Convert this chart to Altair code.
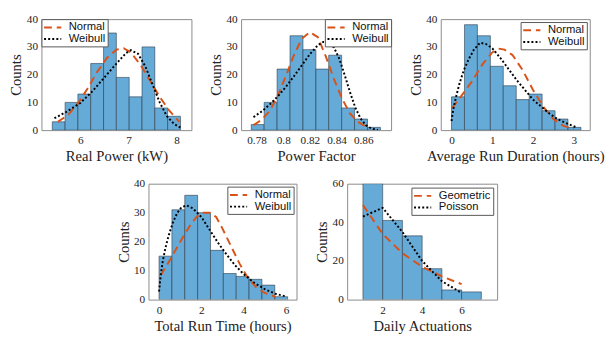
import altair as alt
import pandas as pd

# ---------------- data ----------------
# Panel 1: Real Power (kW)
rp_edges = [5.415, 5.682, 5.948, 6.215, 6.482, 6.748, 7.015, 7.282, 7.548, 7.815, 8.082]
rp_counts = [3, 10, 13, 24, 35, 19, 12, 30, 8, 5]
rp_norm_x = [5.53, 5.75, 5.95, 6.15, 6.35, 6.55, 6.75, 6.9, 7.05, 7.25, 7.45, 7.65, 7.85, 8.06]
rp_norm_y = [3.0, 5.6, 9.7, 15.0, 21.0, 26.0, 29.0, 29.5, 28.0, 23.5, 17.8, 12.0, 7.0, 3.0]
rp_weib_x = [5.46, 5.7, 6.0, 6.25, 6.5, 6.75, 6.95, 7.05, 7.2, 7.35, 7.5, 7.65, 7.8, 7.95, 8.08]
rp_weib_y = [4.3, 6.5, 9.8, 14.0, 19.0, 24.0, 27.8, 28.8, 27.5, 23.0, 16.5, 10.0, 5.0, 2.2, 0.9]

# Panel 2: Power Factor
pf_edges = [0.7760, 0.7857, 0.7954, 0.8051, 0.8148, 0.8245, 0.8341, 0.8438, 0.8535, 0.8632, 0.8729]
pf_counts = [2, 10, 22, 34, 29, 22, 27, 8, 4, 1]
pf_norm_x = [0.7777, 0.784, 0.790, 0.796, 0.802, 0.808, 0.814, 0.820, 0.826, 0.832, 0.838, 0.844, 0.850, 0.856, 0.863]
pf_norm_y = [1.8, 3.8, 7.0, 12.5, 19.5, 27.0, 33.0, 35.3, 33.5, 26.5, 18.5, 11.5, 6.0, 3.0, 1.0]
pf_weib_x = [0.7777, 0.784, 0.790, 0.796, 0.802, 0.808, 0.814, 0.820, 0.826, 0.830, 0.834, 0.838,
             0.842, 0.846, 0.850, 0.854, 0.858, 0.862, 0.866, 0.871]
pf_weib_y = [4.7, 6.8, 9.3, 12.2, 15.6, 19.4, 23.4, 27.4, 30.6, 31.8, 31.6, 29.8,
             25.8, 20.0, 13.8, 8.2, 4.2, 1.8, 0.6, 0.1]

# Panel 3: Average Run Duration (hours)
ard_edges = [0.0, 0.318, 0.635, 0.953, 1.270, 1.588, 1.906, 2.223, 2.541, 2.858, 3.176]
ard_counts = [12, 38, 34, 23, 16, 11, 13, 7, 4, 1]
ard_norm_x = [0.02, 0.25, 0.5, 0.75, 1.0, 1.15, 1.3, 1.5, 1.75, 2.0, 2.25, 2.5, 2.75, 3.0]
ard_norm_y = [8.0, 12.5, 17.5, 23.5, 28.0, 29.4, 29.0, 27.0, 21.5, 14.5, 8.5, 4.0, 1.5, 0.4]
ard_weib_x = [0.0, 0.05, 0.12, 0.2, 0.3, 0.42, 0.55, 0.7, 0.85, 1.0, 1.2, 1.4, 1.6, 1.8,
              2.0, 2.2, 2.4, 2.6, 2.8, 3.06]
ard_weib_y = [3.3, 8.0, 12.5, 17.0, 21.5, 25.5, 29.0, 31.5, 31.0, 29.5, 26.0, 22.0, 18.0, 14.5,
              11.0, 8.5, 6.0, 4.0, 2.6, 1.0]

# Panel 4: Total Run Time (hours)
trt_edges = [0.0, 0.608, 1.216, 1.824, 2.432, 3.04, 3.648, 4.256, 4.864, 5.472, 6.08]
trt_counts = [15, 31, 36, 30, 17, 9, 8, 7, 5, 1]
trt_norm_x = [0.08, 0.5, 1.0, 1.5, 1.8, 2.1, 2.4, 2.7, 3.0, 3.4, 3.8, 4.2, 4.6, 5.0, 5.5]
trt_norm_y = [8.4, 13.5, 20.0, 26.0, 28.8, 30.0, 30.0, 28.5, 24.5, 18.5, 12.5, 7.5, 4.2, 2.3, 1.0]
trt_weib_x = [0.0, 0.08, 0.18, 0.3, 0.45, 0.65, 0.85, 1.05, 1.3, 1.6, 2.0, 2.4, 2.8, 3.2,
              3.6, 4.0, 4.5, 5.0, 5.5, 6.0]
trt_weib_y = [2.8, 8.5, 13.5, 17.8, 22.0, 26.5, 29.8, 31.8, 32.5, 31.5, 28.5, 24.0, 19.5, 15.5,
              11.8, 8.8, 5.8, 3.6, 2.0, 1.1]

# Panel 5: Daily Actuations
da_edges = [1, 2, 3, 4, 5, 6, 7]
da_counts = [60, 41, 33, 16, 5, 4]
da_geo_x = [1, 2, 3, 4, 5, 6]
da_geo_y = [49, 34, 24, 17, 12, 8]
da_poi_x = [1, 2, 3, 4, 5, 6]
da_poi_y = [43, 47.5, 35, 20, 9.5, 3.5]

# ---------------- styling ----------------
SERIF = "Liberation Serif"
SANS = "Liberation Sans"
BAR_FILL = "#66AAD7"
LINE_COLORS = ["#D95319", "#000000"]
LINE_DASHES = [[8, 5], [2, 2.2]]
LEG_SYMBOL = "M-1.6,0H1.6"


def panel(edges, counts, curves, names, xdom, xticks, ydom, yticks, xtitle,
          w, h, lorient, loffset, xfmt=""):
    bars = pd.DataFrame({"x0": edges[:-1], "x1": edges[1:], "count": counts})
    rows = []
    for name, (xs_, ys_) in zip(names, curves):
        for i, (xv, yv) in enumerate(zip(xs_, ys_)):
            rows.append({"x": xv, "y": yv, "series": name, "ord": i})
    lines = pd.DataFrame(rows)

    xkw = dict(values=xticks, title=xtitle, labelOverlap=False)
    if xfmt:
        xkw["format"] = xfmt
    xaxis = alt.Axis(**xkw)
    yaxis = alt.Axis(values=yticks, title="Counts", labelOverlap=False)

    xs = alt.Scale(domain=xdom, nice=False, zero=False)
    ys = alt.Scale(domain=ydom, nice=False)

    bar_layer = alt.Chart(bars).mark_rect(
        fill=BAR_FILL, stroke="#2b3a48", strokeWidth=0.6, clip=True
    ).encode(
        x=alt.X("x0:Q", scale=xs, axis=xaxis),
        x2="x1:Q",
        y=alt.Y("count:Q", scale=ys, axis=yaxis),
        y2=alt.datum(0),
    )

    leg = alt.Legend(title=None, orient=lorient, offset=loffset, symbolType=LEG_SYMBOL)

    line_layer = alt.Chart(lines).mark_line(strokeWidth=2, clip=True).encode(
        x=alt.X("x:Q", scale=xs, axis=xaxis),
        y=alt.Y("y:Q", scale=ys, axis=yaxis),
        color=alt.Color("series:N", scale=alt.Scale(domain=names, range=LINE_COLORS), legend=leg),
        strokeDash=alt.StrokeDash("series:N", scale=alt.Scale(domain=names, range=LINE_DASHES),
                                  legend=leg),
        order="ord:Q",
    )
    return alt.layer(bar_layer, line_layer).properties(width=w, height=h)


nw = ["Normal", "Weibull"]
p1 = panel(rp_edges, rp_counts, [(rp_norm_x, rp_norm_y), (rp_weib_x, rp_weib_y)], nw,
           [5.19, 8.31], [6, 7, 8], [0, 40], [0, 10, 20, 30, 40], "Real Power (kW)",
           154, 114, "top-left", 0)
p2 = panel(pf_edges, pf_counts, [(pf_norm_x, pf_norm_y), (pf_weib_x, pf_weib_y)], nw,
           [0.7684, 0.8809], [0.78, 0.80, 0.82, 0.84, 0.86], [0, 40], [0, 10, 20, 30, 40],
           "Power Factor", 154, 114, "top-right", 0, xfmt=".2~f")
p3 = panel(ard_edges, ard_counts, [(ard_norm_x, ard_norm_y), (ard_weib_x, ard_weib_y)], nw,
           [-0.264, 3.392], [0, 1, 2, 3], [0, 40], [0, 10, 20, 30, 40],
           "Average Run Duration (hours)", 153, 114, "top-right", 3)
p4 = panel(trt_edges, trt_counts, [(trt_norm_x, trt_norm_y), (trt_weib_x, trt_weib_y)], nw,
           [-0.5, 6.5], [0, 2, 4, 6], [0, 40], [0, 10, 20, 30, 40],
           "Total Run Time (hours)", 152, 119, "top-right", 3)
p5 = panel(da_edges, da_counts, [(da_geo_x, da_geo_y), (da_poi_x, da_poi_y)],
           ["Geometric", "Poisson"],
           [0.2, 7.8], [2, 4, 6], [0, 60], [0, 20, 40, 60],
           "Daily Actuations", 154, 119, "top-right", 4)

res = dict(color="independent", strokeDash="independent")
top = alt.hconcat(p1, p2, p3, spacing=16).resolve_scale(**res).resolve_legend(**res)
bottom = alt.hconcat(p4, p5, spacing=17).resolve_scale(**res).resolve_legend(**res)

chart = (
    alt.vconcat(top, bottom, spacing=13, center=True)
    .resolve_scale(**res)
    .resolve_legend(**res)
    .properties(padding=0)
    .configure(background="white", font=SERIF)
    .configure_view(stroke="#8a8a8a", strokeWidth=1)
    .configure_axis(
        grid=False, ticks=False, domain=False,
        labelFont=SERIF, labelFontSize=11.5, labelColor="#222", labelFlush=False,
        titleFont=SERIF, titleFontSize=15, titleFontWeight="normal", titleColor="#222",
    )
    .configure_axisX(labelPadding=5, titlePadding=3)
    .configure_axisY(labelPadding=4, titlePadding=2, minExtent=16, maxExtent=16)
    .configure_legend(
        cornerRadius=0, fillColor="white", strokeColor="#555555", padding=2,
        symbolSize=121, symbolStrokeWidth=2, symbolOffset=3, labelOffset=10,
        labelFont=SANS, labelFontSize=11.5, labelColor="#111", rowPadding=0,
        symbolOpacity=1,
    )
)

chart.save("out.html", embed_options={"renderer": "svg", "actions": False})
